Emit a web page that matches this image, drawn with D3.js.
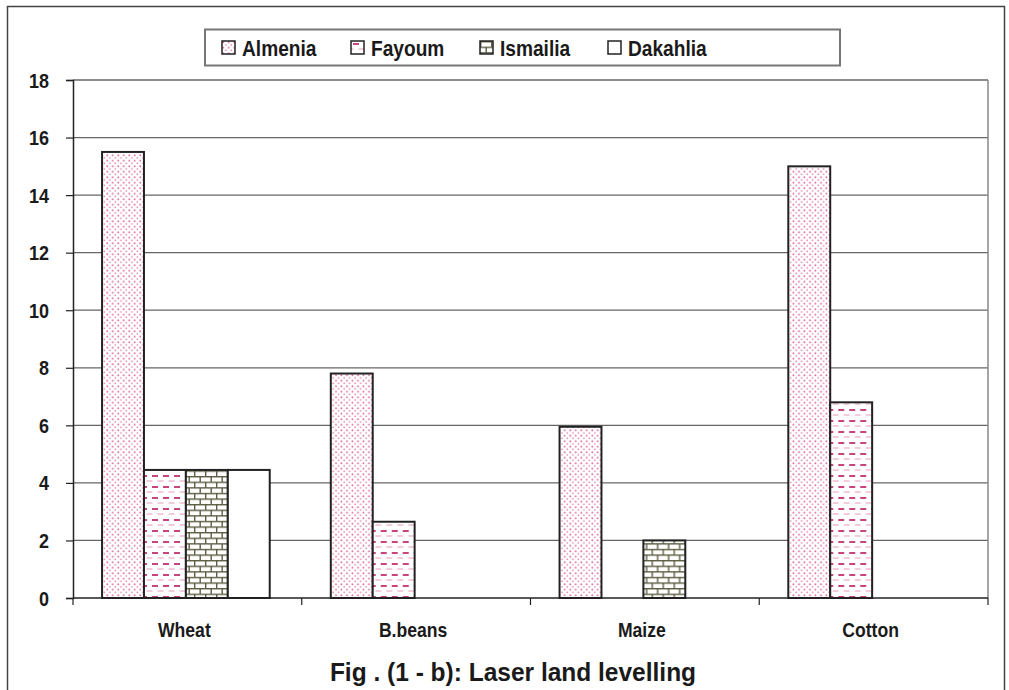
<!DOCTYPE html>
<html>
<head>
<meta charset="utf-8">
<script src="https://cdn.jsdelivr.net/npm/d3@7"></script>
<style>
  body { margin: 0; background: #fff; }
  text { font-family: "Liberation Sans", Arial, sans-serif; font-weight: bold; fill: #1a1a1a; }
</style>
</head>
<body>
<div id="chart"></div>
<script>
// data
var crops = ["Wheat", "B.beans", "Maize", "Cotton"];
var places = ["Almenia", "Fayoum", "Ismailia", "Dakahlia"];
var almenia = [15.5, 7.8, 5.95, 15.0];
var fayoum = [4.45, 2.65, 0, 6.8];
var ismailia = [4.45, 0, 2.0, 0];
var dakahlia = [4.45, 0, 0, 0];
var yTicks = [0, 2, 4, 6, 8, 10, 12, 14, 16, 18];

var seriesVals = [almenia, fayoum, ismailia, dakahlia];
var fills = ["url(#dots)", "url(#dashes)", "url(#bricks)", "#fff"];

var svgWidth = 1009, svgHeight = 690;
var plot = { left: 73, right: 988, top: 80, bottom: 598 };

var svg = d3.select("#chart").append("svg")
  .attr("width", svgWidth)
  .attr("height", svgHeight);

// patterns
var defs = svg.append("defs");

var dots = defs.append("pattern").attr("id", "dots")
  .attr("patternUnits", "userSpaceOnUse").attr("width", 5.5).attr("height", 5.5);
dots.append("rect").attr("width", 5.5).attr("height", 5.5).attr("fill", "#fff");
dots.append("rect").attr("x", 0.5).attr("y", 0.5).attr("width", 1.5).attr("height", 1.5).attr("fill", "#d4488a");
dots.append("rect").attr("x", 3.2).attr("y", 3.2).attr("width", 1.4).attr("height", 1.4).attr("fill", "#e07aa8");

var dashes = defs.append("pattern").attr("id", "dashes")
  .attr("patternUnits", "userSpaceOnUse").attr("width", 11).attr("height", 11);
dashes.append("rect").attr("width", 11).attr("height", 11).attr("fill", "#fff");
dashes.append("rect").attr("x", 2).attr("y", 2).attr("width", 6).attr("height", 2).attr("fill", "#c9447f");
dashes.append("rect").attr("x", 7.5).attr("y", 7.5).attr("width", 6).attr("height", 1).attr("fill", "#e59abb");
dashes.append("rect").attr("x", -3.5).attr("y", 7.5).attr("width", 6).attr("height", 1).attr("fill", "#e59abb");

var bricks = defs.append("pattern").attr("id", "bricks")
  .attr("patternUnits", "userSpaceOnUse").attr("width", 11).attr("height", 11.2);
bricks.append("rect").attr("width", 11).attr("height", 11.2).attr("fill", "#fff");
bricks.append("rect").attr("x", 0).attr("y", 0).attr("width", 11).attr("height", 1.4).attr("fill", "#5e5e44");
bricks.append("rect").attr("x", 0).attr("y", 5.6).attr("width", 11).attr("height", 1.4).attr("fill", "#5e5e44");
bricks.append("rect").attr("x", 0).attr("y", 0).attr("width", 1.4).attr("height", 5.6).attr("fill", "#5e5e44");
bricks.append("rect").attr("x", 5.5).attr("y", 5.6).attr("width", 1.4).attr("height", 5.6).attr("fill", "#5e5e44");

// outer frame
svg.append("rect")
  .attr("x", 7.5).attr("y", 6.5)
  .attr("width", 997).attr("height", 700)
  .attr("fill", "none").attr("stroke", "#444").attr("stroke-width", 1.5);

// scales
var x0 = d3.scaleBand().domain(crops).range([plot.left, plot.right]);
var bw = x0.bandwidth();
var x1 = d3.scaleBand().domain(places).range([0.127 * bw, 0.86 * bw]);
var y = d3.scaleLinear().domain([0, 18]).range([plot.bottom, plot.top]);

// gridlines
svg.append("g").selectAll("line")
  .data(yTicks.filter(d => d > 0))
  .enter().append("line")
  .attr("x1", plot.left).attr("x2", plot.right)
  .attr("y1", d => y(d)).attr("y2", d => y(d))
  .attr("stroke", "#666").attr("stroke-width", 1.3);

// right edge of plot area
svg.append("line")
  .attr("x1", plot.right).attr("x2", plot.right)
  .attr("y1", plot.top).attr("y2", plot.bottom)
  .attr("stroke", "#888").attr("stroke-width", 1.5);

// bars
var rows = crops.map((c, i) => places.map((p, j) => ({ crop: c, place: p, value: seriesVals[j][i], k: j })));
svg.append("g").selectAll("g")
  .data(rows)
  .enter().append("g")
  .attr("transform", d => `translate(${x0(d[0].crop)},0)`)
  .selectAll("rect")
  .data(d => d.filter(e => e.value > 0))
  .enter().append("rect")
  .attr("x", d => x1(d.place))
  .attr("y", d => y(d.value))
  .attr("width", x1.bandwidth())
  .attr("height", d => y(0) - y(d.value))
  .attr("fill", d => fills[d.k])
  .attr("stroke", "#222")
  .attr("stroke-width", 2);

// y axis
var yAxis = svg.append("g")
  .attr("transform", `translate(${plot.left},0)`)
  .call(d3.axisLeft(y).tickValues(yTicks).tickSize(7));
yAxis.select(".domain").attr("stroke", "#222").attr("stroke-width", 1.5);
yAxis.selectAll(".tick line").attr("stroke", "#222").attr("stroke-width", 1.2);
yAxis.selectAll(".tick text").remove();
// condensed tick labels
yAxis.selectAll(".tick").append("text")
  .attr("transform", "translate(-24,7) scale(0.9,1)")
  .attr("text-anchor", "end")
  .style("font-size", "20px")
  .text(d => d);

// x axis (ticks on category boundaries)
svg.append("line")
  .attr("x1", plot.left).attr("x2", plot.right)
  .attr("y1", plot.bottom).attr("y2", plot.bottom)
  .attr("stroke", "#222").attr("stroke-width", 1.5);
var bounds = crops.map(c => x0(c)).concat([plot.right]);
svg.append("g").selectAll("line")
  .data(bounds)
  .enter().append("line")
  .attr("x1", d => d).attr("x2", d => d)
  .attr("y1", plot.bottom).attr("y2", plot.bottom + 7)
  .attr("stroke", "#222").attr("stroke-width", 1.2);
svg.append("g").selectAll("text")
  .data(crops)
  .enter().append("text")
  .attr("transform", d => `translate(${x0(d) + bw / 2 - 3},637) scale(0.88,1)`)
  .attr("text-anchor", "middle")
  .style("font-size", "20px")
  .text(d => d);

// legend
var legend = svg.append("g");
legend.append("rect")
  .attr("x", 205).attr("y", 29.5).attr("width", 635).attr("height", 36)
  .attr("fill", "#fff").attr("stroke", "#777").attr("stroke-width", 2);
var legX = [222, 351, 480, 608];
var items = legend.selectAll("g.item")
  .data(places)
  .enter().append("g")
  .attr("transform", (d, i) => `translate(${legX[i]},41)`);
items.append("rect")
  .attr("width", 13).attr("height", 13)
  .attr("fill", (d, i) => fills[i])
  .attr("stroke", "#222").attr("stroke-width", 1.5);
items.append("text")
  .attr("transform", "translate(20,15) scale(0.87,1)")
  .style("font-size", "22px")
  .text(d => d);

// caption
svg.append("text")
  .attr("transform", "translate(513,681) scale(0.98,1)")
  .attr("text-anchor", "middle")
  .style("font-size", "25px")
  .text("Fig . (1 - b): Laser land levelling");
</script>
</body>
</html>
